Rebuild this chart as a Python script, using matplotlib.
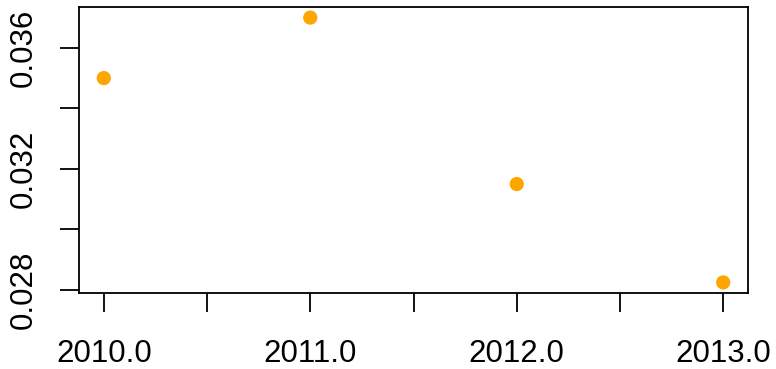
import numpy as np
import matplotlib.pyplot as plt

plt.rcParams['font.family'] = ['Liberation Sans', 'DejaVu Sans']

years = [2010, 2011, 2012, 2013]
values = [0.0350, 0.0370, 0.0315, 0.02825]

x_ticks = [2010, 2010.5, 2011, 2011.5, 2012, 2012.5, 2013]
x_labels = ['2010.0', '', '2011.0', '', '2012.0', '', '2013.0']
y_ticks = [0.028, 0.030, 0.032, 0.034, 0.036]
y_labels = ['0.028', '', '0.032', '', '0.036']

fig = plt.figure(figsize=(7.76, 3.69), dpi=100)
ax = fig.add_axes([79 / 776, (369 - 293) / 369, (748 - 79) / 776, (293 - 7) / 369])

ax.scatter(years, values, s=105, color='#FFA500', edgecolors='none', zorder=3)

# R-style 4% padding
xr = max(years) - min(years)
yr = max(values) - min(values)
ax.set_xlim(min(years) - 0.04 * xr, max(years) + 0.04 * xr)
ax.set_ylim(min(values) - 0.04 * yr, max(values) + 0.04 * yr)

ax.set_xticks(x_ticks)
ax.set_xticklabels(x_labels)
ax.set_yticks(y_ticks)
ax.set_yticklabels(y_labels, rotation=90, va='center')

ax.tick_params(axis='both', length=14, width=1.3, labelsize=22.5, color='black')
ax.tick_params(axis='x', pad=19)
ax.tick_params(axis='y', pad=15)
for sp in ax.spines.values():
    sp.set_linewidth(1.3)

fig.savefig('out.png', dpi=100)
